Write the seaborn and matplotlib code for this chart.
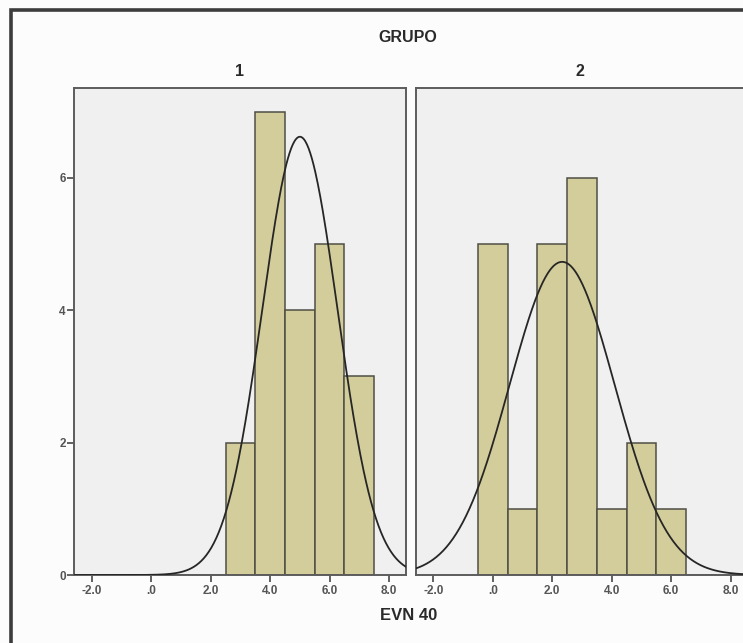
import numpy as np
import pandas as pd
import matplotlib
matplotlib.use("Agg")
import matplotlib.pyplot as plt
from matplotlib.patches import Rectangle
import seaborn as sns

# ---- data (EVN 40 scores per group) ----
grupo1_values = [3, 4, 5, 6, 7]
grupo1_counts = [2, 7, 4, 5, 3]
grupo2_values = [0, 1, 2, 3, 4, 5, 6]
grupo2_counts = [5, 1, 5, 6, 1, 2, 1]
group_labels = ["1", "2"]
x_ticks = [-2, 0, 2, 4, 6, 8]
x_tick_labels = ["-2.0", ".0", "2.0", "4.0", "6.0", "8.0"]
y_ticks = [0, 2, 4, 6]
y_tick_labels = ["0", "2", "4", "6"]

df = pd.concat([
    pd.DataFrame({"GRUPO": "1", "EVN 40": np.repeat(grupo1_values, grupo1_counts)}),
    pd.DataFrame({"GRUPO": "2", "EVN 40": np.repeat(grupo2_values, grupo2_counts)}),
], ignore_index=True)

sns.set_style("white")
plt.rcParams["font.family"] = ["Liberation Sans", "DejaVu Sans"]

W, H = 743, 643
fig = plt.figure(figsize=(W / 100, H / 100), dpi=100, facecolor="#fcfcfc")

def fx(px):
    return px / W

def fy(py):
    return 1 - py / H

# outer frame (extends past the right and bottom edges)
fig.patches.append(Rectangle((fx(11), fy(700)), fx(800), fy(10) - fy(700),
                             transform=fig.transFigure, fill=False,
                             edgecolor="#3c3c3c", linewidth=2.6, zorder=0))

bar_color = "#d3cd9b"
edge_color = "#4f4f45"
panel_bg = "#f0f0f0"
tick_color = "#555555"

left_px = [74, 415.5]
ax_w = 332
top_px, bot_px = 88, 575
xlim = (-2.6, 8.57)
ylim = (0, 7.36)
bin_edges = np.arange(-0.5, 8.0, 1.0)

for i, g in enumerate(group_labels):
    ax = fig.add_axes([fx(left_px[i]), fy(bot_px), fx(ax_w), fy(top_px) - fy(bot_px)])
    ax.set_facecolor(panel_bg)
    sub = df[df["GRUPO"] == g]["EVN 40"].to_numpy(dtype=float)
    sns.histplot(x=sub, bins=bin_edges, ax=ax, color=bar_color, alpha=1.0,
                 edgecolor=edge_color, linewidth=1.1, zorder=2)
    # normal curve fitted to the data, scaled to counts
    m, s = sub.mean(), sub.std(ddof=1)
    xs = np.linspace(xlim[0], xlim[1], 400)
    ys = len(sub) * 1.0 * np.exp(-0.5 * ((xs - m) / s) ** 2) / (s * np.sqrt(2 * np.pi))
    sns.lineplot(x=xs, y=ys, ax=ax, color="#262626", linewidth=1.3, zorder=3)
    ax.set_xlim(*xlim)
    ax.set_ylim(*ylim)
    ax.set_xlabel("")
    ax.set_ylabel("")
    for sp in ax.spines.values():
        sp.set_color("#5c5c5c")
        sp.set_linewidth(1.4)
    ax.set_xticks(x_ticks)
    ax.set_xticklabels(x_tick_labels)
    ax.tick_params(axis="x", direction="out", length=5, width=1.3, color=tick_color,
                   labelcolor=tick_color, labelsize=8.5, pad=2, bottom=True)
    if i == 0:
        ax.set_yticks(y_ticks)
        ax.set_yticklabels(y_tick_labels)
        ax.tick_params(axis="y", direction="out", length=5, width=1.3, color=tick_color,
                       labelcolor=tick_color, labelsize=8.5, pad=1, left=True)
    else:
        ax.set_yticks([])
    for lab in ax.get_xticklabels() + ax.get_yticklabels():
        lab.set_fontweight("semibold")
    ax.grid(False)

# titles
fig.text(fx(408), fy(37), "GRUPO", ha="center", va="center", fontsize=11.5,
         fontweight="bold", color="#2a2a2a")
fig.text(fx(240), fy(72), group_labels[0], ha="center", va="center", fontsize=11.5,
         fontweight="bold", color="#2a2a2a")
fig.text(fx(580), fy(72), group_labels[1], ha="center", va="center", fontsize=11.5,
         fontweight="bold", color="#2a2a2a")
fig.text(fx(409), fy(615), "EVN 40", ha="center", va="center", fontsize=12,
         fontweight="bold", color="#2a2a2a")

fig.savefig("out.png", dpi=100, facecolor=fig.get_facecolor())
